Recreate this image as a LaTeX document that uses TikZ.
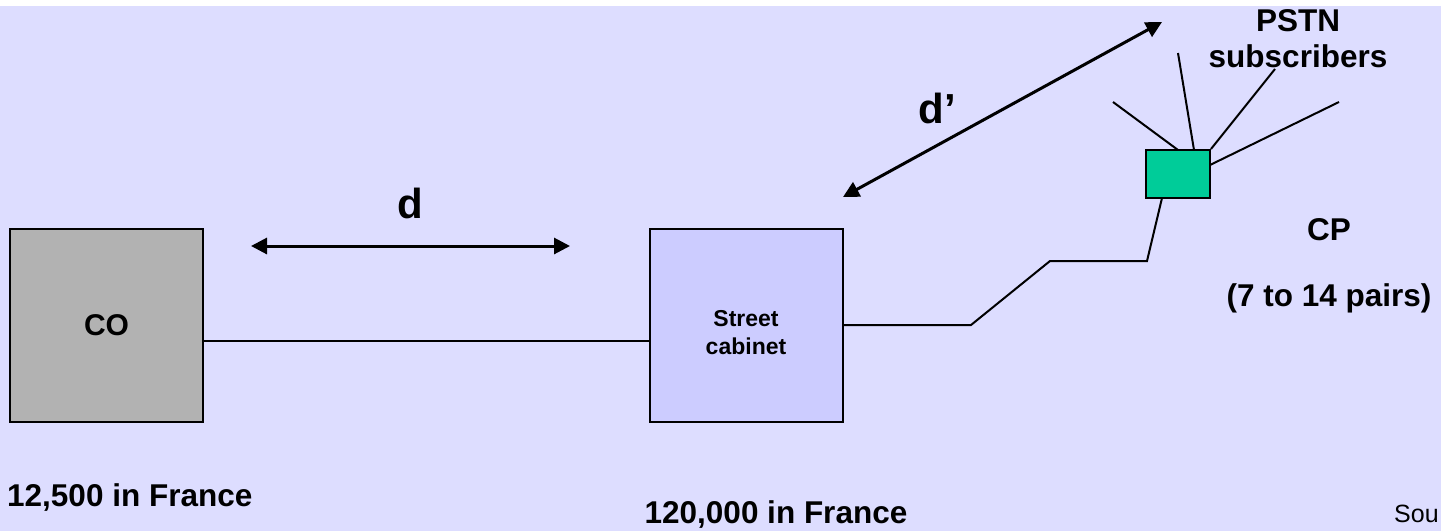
\documentclass[tikz,border=0pt]{standalone}
\usepackage{fontspec}
\setmainfont{Liberation Sans}
\usetikzlibrary{arrows.meta}
\definecolor{bg}{RGB}{221,221,255}
\definecolor{cogray}{RGB}{178,178,178}
\definecolor{cabfill}{RGB}{204,204,255}
\definecolor{cpgreen}{RGB}{0,204,153}
\tikzset{
  box/.style={draw=black, line width=2pt, inner sep=0pt, align=center, font=\bfseries},
  wire/.style={line width=2pt, line join=miter},
  dimarrow/.style={line width=3pt, {Triangle[length=16pt,width=16pt]}-{Triangle[length=16pt,width=16pt]}},
  lbl/.style={font=\bfseries\fontsize{31.5}{38}\selectfont, align=center, inner sep=0pt},
}
\begin{document}
\begin{tikzpicture}[x=1pt,y=-1pt]
\useasboundingbox (0,0) rectangle (1441,531);
\fill[bg] (0,6) rectangle (1441,531);
% boxes
\node[box, fill=cogray, minimum width=193pt, minimum height=193pt, font=\bfseries\fontsize{30}{36}\selectfont] (co) at (106.5,325.5) {CO};
\node[box, fill=cabfill, minimum width=193pt, minimum height=193pt] (cab) at (746.5,325.5) {};
\node[lbl, font=\bfseries\fontsize{23}{28}\selectfont] (cabl) at (746,333) {Street\\cabinet};
\node[box, fill=cpgreen, minimum width=64pt, minimum height=48pt] (cp) at (1178,174) {};
% wires
\draw[wire] (co.east |- 0,341) -- (cab.west |- 0,341);
\coordinate (w1) at (971,325);
\coordinate (w2) at (1050,261);
\coordinate (w3) at (1147,261);
\coordinate (w4) at (1162,198);
\draw[wire] (cab.east |- 0,325) -- (w1) -- (w2) -- (w3) -- (w4);
% subscriber lines
\coordinate (s1) at (1113,102);
\coordinate (s2) at (1178,53);
\coordinate (s3) at (1275,69);
\coordinate (s4) at (1339,102);
\draw[wire] (s1) -- (1178,150);
\draw[wire] (s2) -- (1194,150);
\draw[wire] (s3) -- (cp.north east);
\draw[wire] (s4) -- (1210,165);
% dimension arrows
\coordinate (da) at (251,246);
\coordinate (db) at (570,246);
\draw[dimarrow] (da) -- (db);
\coordinate (pa) at (843,197);
\coordinate (pb) at (1162,22);
\draw[dimarrow] (pa) -- (pb);
% labels
\node[lbl, font=\bfseries\fontsize{42}{48}\selectfont] (dl) at (410,203) {d};
\node[lbl, font=\bfseries\fontsize{42}{48}\selectfont] (dpl) at (937,108) {d’};
\node[lbl] (pstn) at (1298,39) {PSTN\\[-2pt]subscribers};
\node[lbl] (cpl) at (1329,230) {CP};
\node[lbl] (pairs) at (1329,298) {(7 to 14 pairs)};
\node[lbl, anchor=west] (fr1) at (7,498) {12,500 in France};
\node[lbl] (fr2) at (776,515) {120,000 in France};
\node[font=\fontsize{25}{30}\selectfont, anchor=west, inner sep=0pt] (src) at (1394,514) {Sou};
\end{tikzpicture}
\end{document}
